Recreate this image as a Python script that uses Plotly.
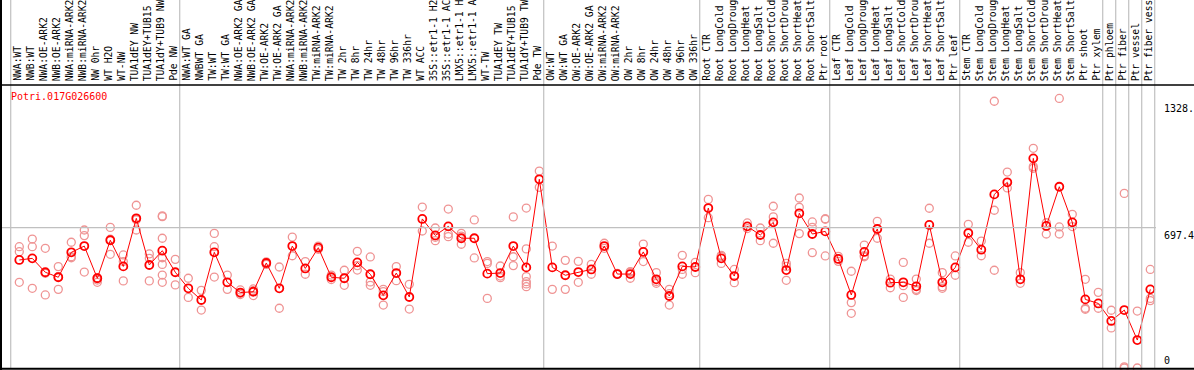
import plotly.graph_objects as go

gene_name = "Potri.017G026600"

categories = [
    "NWA:WT", "NWB:WT", "NWA:OE-ARK2", "NWB:OE-ARK2", "NWA:miRNA-ARK2", "NWB:miRNA-ARK2",
    "NW 0hr", "WT H2O", "WT-NW", "TUA1dEY NW", "TUA1dEY+TUB15", "TUA1dY+TUB9 NW", "Pde NW",
    "NWA:WT GA", "NWBWT GA", "TW:WT", "TW:WT GA", "NWA:OE-ARK2 GA", "NWB:OE-ARK2 GA",
    "TW:OE-ARK2", "TW:OE-ARK2 GA", "NWA:miRNA-ARK2", "NWB:miRNA-ARK2", "TW:miRNA-ARK2",
    "TW:miRNA-ARK2", "TW 2hr", "TW 8hr", "TW 24hr", "TW 48hr", "TW 96hr", "TW 336hr",
    "WT ACC", "35S::etr1-1 H2", "35S::etr1-1 AC", "LMX5::etr1-1 H", "LMX5::etr1-1 A",
    "WT-TW", "TUA1dEY TW", "TUA1dEY+TUB15", "TUA1dY+TUB9 TW", "Pde TW",
    "OW:WT", "OW:WT GA", "OW:OE-ARK2", "OW:OE-ARK2 GA", "OW:miRNA-ARK2", "OW:miRNA-ARK2",
    "OW 2hr", "OW 8hr", "OW 24hr", "OW 48hr", "OW 96hr", "OW 336hr",
    "Root CTR", "Root LongCold", "Root LongDroug", "Root LongHeat", "Root LongSalt",
    "Root ShortCold", "Root ShortDrou", "Root ShortHeat", "Root ShortSalt", "Ptr root",
    "Leaf CTR", "Leaf LongCold", "Leaf LongDroug", "Leaf LongHeat", "Leaf LongSalt",
    "Leaf ShortCold", "Leaf ShortDrou", "Leaf ShortHeat", "Leaf ShortSalt", "Ptr leaf",
    "Stem CTR", "Stem LongCold", "Stem LongDroug", "Stem LongHeat", "Stem LongSalt",
    "Stem ShortCold", "Stem ShortDrou", "Stem ShortHeat", "Stem ShortSalt", "Ptr shoot",
    "Ptr xylem", "Ptr phloem", "Ptr fiber", "Ptr vessel", "Ptr fiber vess",
]

# section sizes (groups separated by grey vertical lines)
section_sizes = [13, 28, 12, 10, 10, 11, 1, 1, 1, 1]

mean_values = [
    537, 545, 476, 451, 575, 606, 446, 635, 505, 744,
    512, 583, 476, 396, 338, 575, 426, 375, 379, 522,
    396, 606, 495, 598, 451, 446, 525, 466, 361, 472,
    353, 741, 659, 704, 645, 645, 469, 472, 606, 500,
    938, 500, 461, 477, 490, 606, 467, 467, 577, 441,
    358, 505, 502, 795, 545, 457, 704, 661, 724, 487,
    769, 666, 679, 542, 363, 577, 691, 424, 426, 406,
    711, 426, 500, 671, 588, 863, 923, 441, 1042, 706,
    901, 724, 341, 321, 234, 288, 139, 391,
]

replicate_values = [
    [603, 578, 426], [641, 603, 396], [595, 471, 363], [504, 454, 391],
    [625, 553, 548], [686, 658, 477], [449, 426, 437], [699, 565, 640],
    [562, 529, 433], [809, 686, 737], [567, 545, 433],
    [752, 756, 645, 548, 515, 462, 426], [540, 413],
    [446, 351], [386, 288], [669, 603, 452], [462, 391], [388, 365, 372],
    [393, 360, 384], [515, 522, 528], [502, 297], [651, 558], [529, 466],
    [606, 590], [462, 440], [486, 411], [580, 487, 509], [552, 428, 411],
    [391, 313, 380], [504, 434], [416, 293], [800, 681], [696, 633, 650],
    [790, 666, 653], [669, 656, 615], [736, 547], [529, 520, 346],
    [507, 449, 457], [751, 553, 509], [795, 592, 454, 429, 418, 404],
    [979, 898],
    [606, 391], [535, 391], [530, 426], [515, 466], [620, 595], [470, 465],
    [479, 446, 476], [616, 529], [474, 421, 430], [391, 313, 370],
    [560, 466, 490], [525, 474],
    [838, 747], [560, 520, 555], [490, 424], [721, 693], [696, 633],
    [804, 751, 620], [520, 436, 505], [845, 799, 668], [726, 573, 699],
    [739, 557, 742],
    [542, 530, 555], [481, 325, 272], [611, 553, 558], [729, 645], [442, 399],
    [525, 409, 351], [442, 391, 385], [794, 620], [474, 404, 396], [557, 461],
    [714, 625], [631, 558], [1326, 784, 486], [974, 895], [474, 421],
    [1092, 1001, 993], [722, 666], [1340, 701, 666], [764, 703],
    [441, 297, 292], [376, 297],
    [287, 199], [868, 6, 0], [283, 0], [490, 346, 335],
]

tick_values = [1328, 697.4, 0]
tick_labels = ["1328.", "697.4", "0"]
grid_value = 697.4

W, H = 1194, 370
n = len(categories)
x_idx = list(range(n))

rep_x, rep_y = [], []
for i, reps in enumerate(replicate_values):
    for v in reps:
        rep_x.append(i)
        rep_y.append(v)

RED = "#ff0000"
PALE = "#ef9494"
FONT = "DejaVu Sans Mono"

fig = go.Figure()
fig.add_trace(go.Scatter(
    x=rep_x, y=rep_y, mode="markers",
    marker=dict(symbol="circle-open", size=8, color=PALE, line=dict(width=1.3, color=PALE)),
    hoverinfo="skip", showlegend=False,
))
fig.add_trace(go.Scatter(
    x=x_idx, y=mean_values, mode="lines+markers",
    line=dict(color=RED, width=1),
    marker=dict(symbol="circle-open", size=8, color=RED, line=dict(width=1.8, color=RED)),
    showlegend=False,
))

shapes = []
# grey vertical separators
b = 0
bounds = [0]
for s in section_sizes:
    b += s
    bounds.append(b)
for bb in bounds:
    shapes.append(dict(type="line", xref="x", yref="paper", x0=bb - 0.66, x1=bb - 0.66,
                       y0=(H - 368) / H, y1=1, line=dict(color="#c0c0c0", width=1.2)))
# grey horizontal line at mid value
shapes.append(dict(type="line", xref="paper", yref="y", x0=2 / W, x1=1156 / W,
                   y0=grid_value, y1=grid_value, line=dict(color="#c0c0c0", width=1.2)))
# black frame lines
shapes.append(dict(type="line", xref="paper", yref="paper", x0=0, x1=1, y0=(H - 85) / H, y1=(H - 85) / H,
                   line=dict(color="black", width=1.6)))
shapes.append(dict(type="line", xref="paper", yref="paper", x0=0, x1=1, y0=(H - 368.8) / H, y1=(H - 368.8) / H,
                   line=dict(color="black", width=2)))
shapes.append(dict(type="line", xref="paper", yref="paper", x0=1 / W, x1=1 / W, y0=0, y1=1,
                   line=dict(color="black", width=2)))

annotations = []
for i, lab in enumerate(categories):
    annotations.append(dict(x=i, y=(H - 83) / H, xref="x", yref="paper", text=lab, showarrow=False,
                            textangle=-90, xanchor="center", yanchor="bottom", xshift=-2,
                            font=dict(family=FONT, size=9.7, color="black")))
annotations.append(dict(x=9 / W, y=(H - 96.7) / H, xref="paper", yref="paper", text=gene_name,
                        showarrow=False, xanchor="left", yanchor="middle",
                        font=dict(family=FONT, size=10, color=RED)))
for v, lab in zip(tick_values, tick_labels):
    annotations.append(dict(x=1162 / W, y=v, xref="paper", yref="y", text=lab, showarrow=False,
                            xanchor="left", yanchor="bottom" if v == 0 else "top",
                            font=dict(family=FONT, size=10, color="black")))

# pixel mapping: x px = 19.3 + 13*i ; y px = 368 - 0.20118*v
x0 = -19.3 / 13
x1 = (W - 19.3) / 13
y_top = 368 / 0.20118
y_bot = (368 - H) / 0.20118

fig.update_layout(
    width=W, height=H, margin=dict(l=0, r=0, t=0, b=0),
    paper_bgcolor="white", plot_bgcolor="white",
    xaxis=dict(range=[x0, x1], visible=False, showgrid=False, zeroline=False, fixedrange=True),
    yaxis=dict(range=[y_bot, y_top], visible=False, showgrid=False, zeroline=False, fixedrange=True),
    shapes=shapes, annotations=annotations, showlegend=False,
)

fig.write_html(
    "out.html",
    config={"displayModeBar": False},
    post_script="document.body.style.margin='0';document.body.style.overflow='hidden';",
)
